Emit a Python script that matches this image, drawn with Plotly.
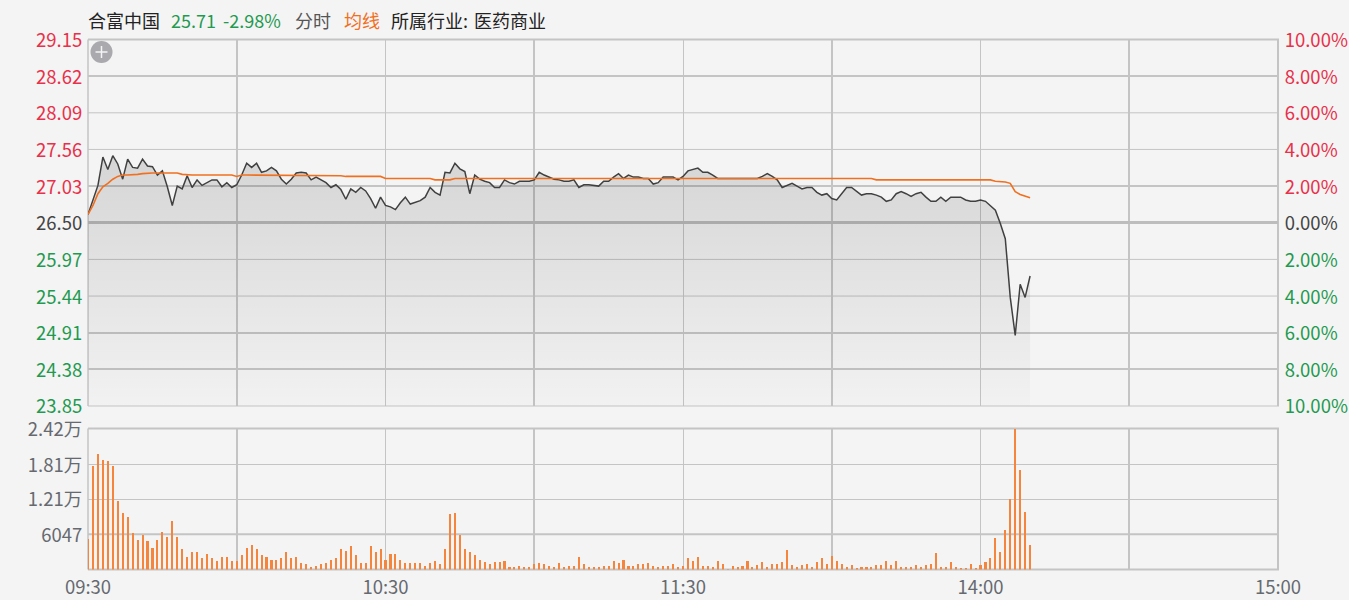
import plotly.graph_objects as go

price = [
    26.62, 26.83, 27.04, 27.45, 27.27, 27.47, 27.35, 27.13, 27.42, 27.30,
    27.29, 27.42, 27.32, 27.31, 27.19, 27.25, 27.02, 26.75, 27.03, 26.99,
    27.18, 27.01, 27.12, 27.04, 27.08, 27.12, 27.12, 27.02, 27.08, 27.01,
    27.05, 27.19, 27.36, 27.30, 27.36, 27.23, 27.25, 27.30, 27.25, 27.13,
    27.06, 27.13, 27.22, 27.23, 27.22, 27.12, 27.16, 27.12, 27.08, 27.01,
    27.05, 26.98, 26.84, 26.99, 26.94, 27.01, 26.96, 26.85, 26.71, 26.87,
    26.75, 26.73, 26.69, 26.79, 26.87, 26.77, 26.79, 26.82, 26.87, 27.01,
    26.94, 26.90, 27.23, 27.22, 27.36, 27.28, 27.24, 26.92, 27.19, 27.13,
    27.10, 27.08, 27.01, 27.01, 27.12, 27.08, 27.06, 27.10, 27.10, 27.10,
    27.12, 27.23, 27.19, 27.16, 27.13, 27.12, 27.10, 27.10, 27.12, 27.01,
    27.05, 27.05, 27.04, 27.03, 27.10, 27.10, 27.16, 27.21, 27.14, 27.19,
    27.16, 27.16, 27.14, 27.14, 27.06, 27.08, 27.16, 27.16, 27.16, 27.12,
    27.17, 27.25, 27.27, 27.29, 27.23, 27.23, 27.19, 27.14, 27.14, 27.14,
    27.14, 27.14, 27.14, 27.14, 27.14, 27.14, 27.17, 27.21, 27.17, 27.12,
    27.01, 27.04, 27.07, 27.03, 26.99, 27.01, 27.01, 26.94, 26.90, 26.92,
    26.85, 26.83, 26.92, 27.01, 27.01, 26.96, 26.90, 26.92, 26.92, 26.90,
    26.87, 26.81, 26.83, 26.92, 26.95, 26.92, 26.88, 26.92, 26.94, 26.87,
    26.81, 26.81, 26.87, 26.81, 26.87, 26.87, 26.87, 26.83, 26.81, 26.81,
    26.83, 26.81, 26.75, 26.68, 26.49, 26.27, 25.42, 24.87, 25.61, 25.42,
    25.73,
]
average = [
    26.62, 26.75, 26.92, 27.02, 27.07, 27.13, 27.17, 27.19, 27.19, 27.19,
    27.20, 27.21, 27.22, 27.22, 27.22, 27.22, 27.22, 27.22, 27.22, 27.20,
    27.19, 27.19, 27.19, 27.19, 27.19, 27.19, 27.19, 27.19, 27.19, 27.19,
    27.17, 27.19, 27.19, 27.19, 27.19, 27.19, 27.19, 27.19, 27.19, 27.19,
    27.19, 27.19, 27.19, 27.19, 27.19, 27.19, 27.19, 27.19, 27.19, 27.19,
    27.19, 27.18, 27.17, 27.17, 27.17, 27.17, 27.17, 27.17, 27.17, 27.17,
    27.14, 27.14, 27.14, 27.14, 27.14, 27.14, 27.14, 27.14, 27.14, 27.14,
    27.12, 27.12, 27.12, 27.12, 27.14, 27.14, 27.14, 27.14, 27.14, 27.14,
    27.14, 27.14, 27.14, 27.14, 27.14, 27.14, 27.14, 27.14, 27.14, 27.14,
    27.14, 27.14, 27.14, 27.14, 27.14, 27.14, 27.14, 27.14, 27.14, 27.14,
    27.14, 27.14, 27.14, 27.14, 27.14, 27.14, 27.14, 27.14, 27.14, 27.14,
    27.14, 27.14, 27.14, 27.14, 27.14, 27.14, 27.14, 27.14, 27.14, 27.14,
    27.14, 27.14, 27.14, 27.14, 27.14, 27.14, 27.14, 27.14, 27.14, 27.14,
    27.14, 27.14, 27.14, 27.14, 27.14, 27.14, 27.14, 27.14, 27.14, 27.14,
    27.14, 27.14, 27.14, 27.14, 27.14, 27.14, 27.14, 27.14, 27.14, 27.14,
    27.14, 27.14, 27.14, 27.14, 27.14, 27.14, 27.14, 27.14, 27.14, 27.12,
    27.12, 27.12, 27.12, 27.12, 27.12, 27.12, 27.12, 27.12, 27.12, 27.12,
    27.12, 27.12, 27.12, 27.12, 27.12, 27.12, 27.12, 27.12, 27.12, 27.12,
    27.12, 27.12, 27.12, 27.10, 27.10, 27.09, 27.07, 26.95, 26.91, 26.88,
    26.86,
]
volume = [
    5300, 17860, 19870, 18840, 18660, 17860, 11920, 9790, 9040, 6340,
    5130, 5930, 4900, 3860, 5130, 6450, 5700, 8470, 5700, 3570,
    2300, 3110, 3110, 2020, 2820, 2020, 1560, 2300, 2300, 1560,
    1560, 2590, 3860, 4320, 3570, 2530, 2300, 1790, 1790, 2020,
    3110, 2020, 2300, 1270, 980, 520, 750, 980, 1270, 1790,
    2020, 3570, 3340, 4150, 2530, 1270, 1270, 4150, 3110, 3570,
    1730, 2820, 2820, 1790, 1270, 1270, 1270, 1270, 750, 1270,
    1560, 1040, 3630, 9620, 9850, 5990, 3630, 3110, 2590, 1790,
    1320, 1040, 1320, 1320, 1560, 520, 520, 750, 520, 520,
    1040, 1270, 1040, 750, 520, 1270, 520, 750, 750, 2300,
    1040, 520, 520, 520, 750, 750, 1560, 1270, 1790, 750,
    750, 1040, 1040, 1270, 750, 520, 750, 750, 1040, 520,
    750, 2070, 1560, 2300, 750, 750, 520, 1560, 1040, 170,
    750, 520, 750, 1560, 580, 860, 1380, 580, 1090, 1090,
    1380, 3460, 860, 580, 860, 1090, 580, 1380, 2130, 1090,
    2420, 1610, 1090, 580, 860, 230, 580, 580, 580, 860,
    860, 1610, 860, 1610, 580, 580, 580, 860, 580, 860,
    1090, 2940, 580, 580, 1380, 580, 230, 230, 1090, 230,
    860, 1380, 2130, 5530, 3170, 6800, 12210, 24200, 17160, 9910,
    4260,
]

minutes = list(range(len(price)))

price_ticks = [29.15, 28.62, 28.09, 27.56, 27.03, 26.50, 25.97, 25.44, 24.91, 24.38, 23.85]
price_thick = [28.62, 27.03, 24.91, 24.38]
price_thin = [28.09, 27.56, 25.97, 25.44]
pct_ticks = [10, 8, 6, 4, 2, 0, -2, -4, -6, -8, -10]
vol_ticks = [6047, 12100, 18100, 24200]
vol_labels = ["6047", "1.21万", "1.81万", "2.42万"]
time_ticks = [0, 60, 120, 180, 240]
time_labels = ["09:30", "10:30", "11:30", "14:00", "15:00"]
half_hours = [30, 90, 150, 210]

FONT = "Noto Sans CJK SC"
RED, GREEN, DARK, GREY = "#e8304a", "#1f9a50", "#444444", "#666a70"
BG = "#f4f4f4"
GRID = "#c4c4c4"
W, H = 1349, 600
PX0, PX1 = 88, 1278
P_TOP, P_BOT, V_TOP, V_BOT = 39.5, 406, 428.5, 569.5
TICK = 18.5
SHIFT = 1


def colored(value, label):
    color = RED if value > 0 else GREEN if value < 0 else DARK
    return f'<span style="color:{color}">{label}</span>'


fig = go.Figure()
fig.add_trace(go.Scatter(
    x=minutes, y=price, mode="lines", fill="tozeroy",
    line=dict(color="#404040", width=1.5),
    fillgradient=dict(type="vertical", start=23.85, stop=27.45,
                      colorscale=[[0, "rgba(0,0,0,0.01)"], [1, "rgba(0,0,0,0.125)"]]),
    xaxis="x", yaxis="y", hoverinfo="skip"))
fig.add_trace(go.Scatter(
    x=minutes, y=average, mode="lines",
    line=dict(color="#f0701f", width=1.6),
    xaxis="x", yaxis="y", hoverinfo="skip"))
# Invisible trace that activates the percentage axis on the right.
fig.add_trace(go.Scatter(
    x=[0, 0], y=[10, -10], mode="lines", line=dict(width=0),
    xaxis="x", yaxis="y2", hoverinfo="skip"))
fig.add_trace(go.Bar(
    x=minutes, y=volume, width=0.42, marker=dict(color="#f5853d", line=dict(width=0)),
    xaxis="x2", yaxis="y3", hoverinfo="skip"))

x_dom = [PX0 / W, PX1 / W]
price_dom = [1 - P_BOT / H, 1 - P_TOP / H]
vol_dom = [1 - V_BOT / H, 1 - V_TOP / H]
xaxis_common = dict(
    range=[0, 240], domain=x_dom, tickmode="array", tickvals=time_ticks,
    showgrid=True, gridcolor=GRID, gridwidth=1, zeroline=False, showline=False,
    minor=dict(tickmode="array", tickvals=half_hours, showgrid=True,
               gridcolor=GRID, gridwidth=2, ticks=""),
)

fig.update_layout(
    width=W, height=H, autosize=False, showlegend=False,
    margin=dict(l=0, r=0, t=0, b=0, pad=0, autoexpand=False),
    paper_bgcolor=BG, plot_bgcolor=BG,
    font=dict(family=FONT, size=TICK, color=GREY),
    bargap=0,
    xaxis=dict(anchor="y", showticklabels=False, ticks="", **xaxis_common),
    xaxis2=dict(anchor="y3", ticktext=time_labels, ticks="", ticklabelstandoff=5,
                tickfont=dict(size=TICK, color=GREY),
                **xaxis_common),
    yaxis=dict(
        domain=price_dom, range=[23.85, 29.15], anchor="x", side="left",
        tickmode="array", tickvals=price_ticks,
        ticktext=[colored(v - 26.5, f"{v:.2f}") for v in price_ticks],
        ticks="outside", ticklen=1, tickcolor="rgba(0,0,0,0)", ticklabelshift=SHIFT,
        showgrid=False, zeroline=False,
        minor=dict(tickmode="array", tickvals=price_thick, showgrid=True,
                   gridcolor=GRID, gridwidth=2, ticks=""),
    ),
    yaxis2=dict(
        domain=price_dom, range=[-10, 10], anchor="x", overlaying="y", side="right",
        tickmode="array", tickvals=pct_ticks,
        ticktext=[colored(v, f"{abs(v):.2f}%") for v in pct_ticks],
        ticks="outside", ticklen=2, tickcolor="rgba(0,0,0,0)", ticklabelshift=SHIFT,
        showgrid=False, zeroline=True, zerolinecolor="#bdbdbd", zerolinewidth=3,
    ),
    yaxis3=dict(
        domain=vol_dom, range=[0, 24200], anchor="x2", side="left",
        tickmode="array", tickvals=vol_ticks, ticktext=vol_labels,
        ticks="outside", ticklen=1, tickcolor="rgba(0,0,0,0)", ticklabelshift=SHIFT,
        tickfont=dict(size=TICK, color=GREY),
        showgrid=True, gridcolor=GRID, gridwidth=1, zeroline=False,
    ),
)

# Thin price gridlines.
shapes = [dict(type="line", xref="x domain", yref="y", x0=0, x1=1, y0=v, y1=v,
               line=dict(color=GRID, width=1), layer="below") for v in price_thin]
shapes.append(dict(type="line", xref="x2 domain", yref="y3", x0=0, x1=1, y0=6047, y1=6047,
                   line=dict(color=GRID, width=2), layer="below"))


def frame_line(x0, y0, x1, y1, width):
    return dict(type="line", xref="paper", yref="paper",
                x0=x0 / W, x1=x1 / W, y0=1 - y0 / H, y1=1 - y1 / H,
                line=dict(color=GRID, width=width), layer="below")


# Panel borders.
shapes += [
    frame_line(PX0, P_TOP, PX1 + 1, P_TOP, 2),
    frame_line(PX0, P_BOT, PX1 + 1, P_BOT, 1),
    frame_line(PX0, P_TOP, PX0, P_BOT, 1.5),
    frame_line(PX1, P_TOP, PX1, P_BOT, 2),
    frame_line(PX0, V_TOP, PX1 + 1, V_TOP, 2),
    frame_line(PX0, V_BOT, PX1 + 1, V_BOT, 2),
    frame_line(PX0, V_TOP, PX0, V_BOT, 1.5),
    frame_line(PX1, V_TOP, PX1, V_BOT, 2),
]
# The round "+" button in the top-left corner.
cx, cy, r = 101.5, 52, 11
shapes.append(dict(type="circle", xref="paper", yref="paper",
                   x0=(cx - r) / W, x1=(cx + r) / W, y0=1 - (cy + r) / H, y1=1 - (cy - r) / H,
                   fillcolor="#a9a9ae", line=dict(width=0)))
shapes.append(dict(type="line", xref="paper", yref="paper",
                   x0=(cx - 6) / W, x1=(cx + 6) / W, y0=1 - cy / H, y1=1 - cy / H,
                   line=dict(color="#f4f4f4", width=1.5)))
shapes.append(dict(type="line", xref="paper", yref="paper",
                   x0=cx / W, x1=cx / W, y0=1 - (cy + 6) / H, y1=1 - (cy - 6) / H,
                   line=dict(color="#f4f4f4", width=1.5)))
fig.update_layout(shapes=shapes)

header = [
    (88, "合富中国", "#222222"),
    (171, "25.71", GREEN),
    (223, "-2.98%", GREEN),
    (295, "分时", "#555555"),
    (344, "均线", "#f0701f"),
    (391, "所属行业:", "#222222"),
    (474, "医药商业", "#222222"),
]
for px, text, color in header:
    fig.add_annotation(x=px / W, y=1 - 20 / H, xref="paper", yref="paper",
                       xanchor="left", yanchor="middle", showarrow=False, borderpad=0,
                       borderwidth=0, text=text, font=dict(family=FONT, size=18, color=color))

fig.write_html("out.html", config={"displayModeBar": False},
               post_script="document.body.style.margin='0';document.body.style.overflow='hidden';")
